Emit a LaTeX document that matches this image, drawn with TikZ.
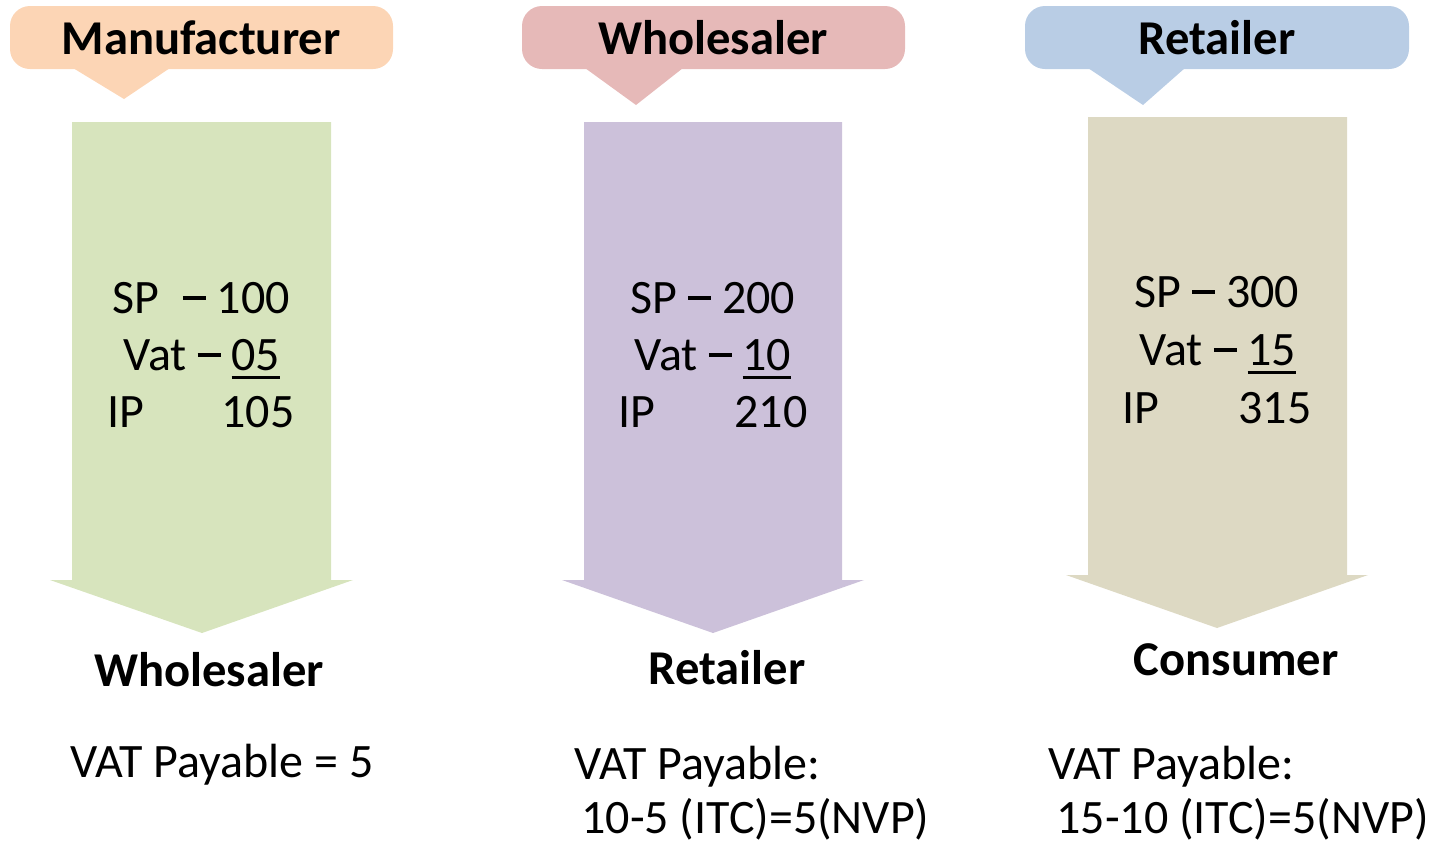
\documentclass[tikz,border=0pt]{standalone}
\usepackage{fontspec}
\setmainfont{Carlito}
\usepackage{tikz}

\definecolor{peach}{HTML}{FCD5B5}
\definecolor{rose}{HTML}{E6B9B8}
\definecolor{sky}{HTML}{B9CDE5}
\definecolor{sage}{HTML}{D7E4BD}
\definecolor{lilac}{HTML}{CCC1DA}
\definecolor{sand}{HTML}{DDD9C3}

% number with a thick rule under it
\newcommand{\ulnum}[1]{\setbox0\hbox{#1}\rlap{\rule[-4.4pt]{\wd0}{1.5pt}}\box0}
% long dash
\newcommand{\dashbar}{\rule[0.27em]{0.48em}{0.075em}}

\begin{document}
\begin{tikzpicture}[x=0.5pt,y=-0.5pt,
    head/.style={font=\fontsize{24.3}{29}\selectfont\bfseries,anchor=base,inner sep=0pt},
    body/.style={font=\fontsize{24}{29}\selectfont,anchor=base,inner sep=0pt},
    payline/.style={font=\fontsize{24}{29}\selectfont,anchor=base west,inner sep=0pt}]
    \useasboundingbox (0,0) rectangle (1431,843);

    % callouts
    \fill[peach,rounded corners=10] (10,6) rectangle (393,69);
    \fill[peach] (73,68) -- (124,99) -- (170,68) -- cycle;
    \fill[rose,rounded corners=10] (522,6) rectangle (905,69);
    \fill[rose] (585,68) -- (636,105) -- (683,68) -- cycle;
    \fill[sky,rounded corners=10] (1025,6) rectangle (1409,69);
    \fill[sky] (1088,68) -- (1143,105) -- (1185,68) -- cycle;

    % down arrows
    \fill[sage] (72,122) -- (331,122) -- (331,580) -- (353,580)
      -- (202,633) -- (50,580) -- (72,580) -- cycle;
    \fill[lilac] (584,122) -- (842,122) -- (842,580) -- (864,580)
      -- (713,633) -- (562,580) -- (584,580) -- cycle;
    \fill[sand] (1088,117) -- (1347,117) -- (1347,575) -- (1368,575)
      -- (1217,628) -- (1066,575) -- (1088,575) -- cycle;

    \node[head] (manuf) at (201,54) {Manufacturer};
    \node[head] (whole) at (713,54) {Wholesaler};
    \node[head] (retail) at (1217,54) {Retailer};

    \node[body] (sp1) at (201,313) {SP\hspace{0.5em}\dashbar{} 100};
    \node[body] (vat1) at (202,370) {Vat \dashbar{} \ulnum{05}};
    \node[body] (ip1) at (201,427) {IP\hspace{1.6em}105};
    \node[body] (sp2) at (713,313) {SP \dashbar{} 200};
    \node[body] (vat2) at (713,370) {Vat \dashbar{} \ulnum{10}};
    \node[body] (ip2) at (713,427) {IP\hspace{1.65em}210};
    \node[body] (sp3) at (1217,307) {SP \dashbar{} 300};
    \node[body] (vat3) at (1218,365) {Vat \dashbar{} \ulnum{15}};
    \node[body] (ip3) at (1217,423) {IP\hspace{1.65em}315};

    \node[head] (to1) at (209,686) {Wholesaler};
    \node[head] (to2) at (727,684) {Retailer};
    \node[head] (to3) at (1236,675) {Consumer};

    \node[payline] (pay1) at (70,777) {VAT Payable = 5};
    \node[payline] (pay2) at (574,779) {VAT Payable:};
    \node[payline] (net2) at (581,833) {10-5 (ITC)=5(NVP)};
    \node[payline] (pay3) at (1048,779) {VAT Payable:};
    \node[payline] (net3) at (1056,833) {15-10 (ITC)=5(NVP)};
\end{tikzpicture}
\end{document}
